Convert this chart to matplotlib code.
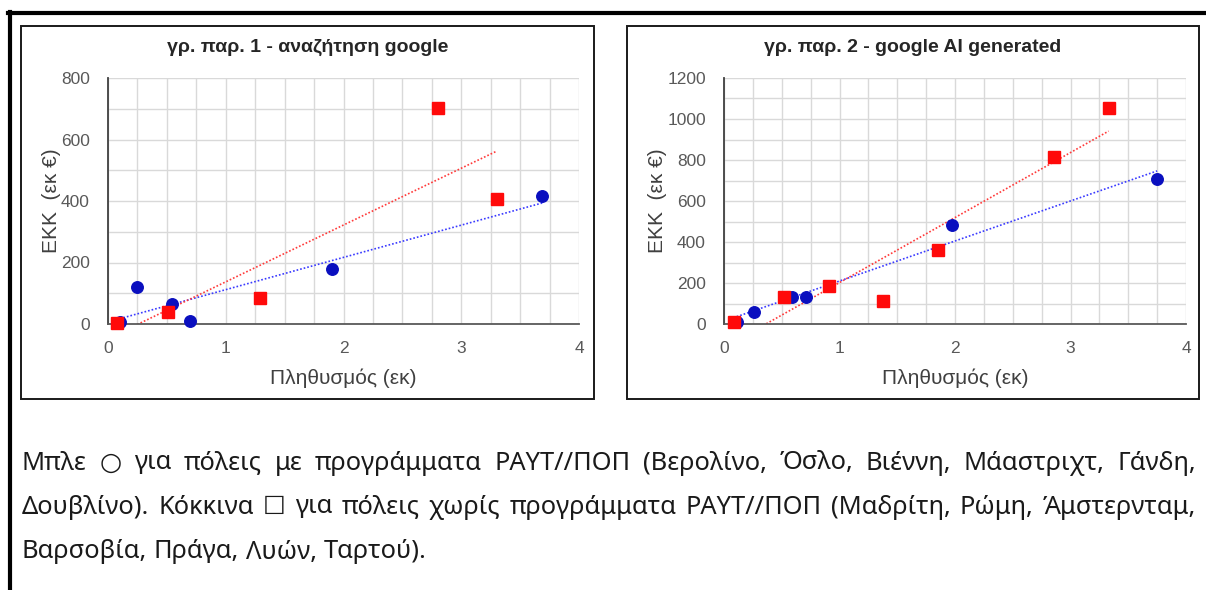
import numpy as np
import matplotlib
matplotlib.use("Agg")
import matplotlib.pyplot as plt
from matplotlib.patches import Rectangle
from matplotlib.ticker import MultipleLocator

# ---- data ----
# panel 1: google search
p1_blue_x = [0.10, 0.25, 0.54, 0.70, 1.90, 3.69]
p1_blue_y = [5, 120, 65, 9, 180, 415]
p1_red_x = [0.08, 0.51, 1.29, 2.80, 3.30]
p1_red_y = [2, 40, 86, 703, 405]

# panel 2: google AI generated
p2_blue_x = [0.11, 0.26, 0.59, 0.71, 1.97, 3.75]
p2_blue_y = [11, 60, 134, 134, 484, 706]
p2_red_x = [0.09, 0.52, 0.91, 1.38, 1.85, 2.86, 3.33]
p2_red_y = [8, 133, 186, 110, 360, 813, 1054]

titles = ["γρ. παρ. 1 - αναζήτηση google", "γρ. παρ. 2 - google AI generated"]
xlabel = "Πληθυσμός (εκ)"
ylabel = "ΕΚΚ  (εκ €)"
ymaxes = [800, 1200]

caption_lines = [
    "Μπλε ○ για πόλεις με προγράμματα ΡΑΥΤ//ΠΟΠ (Βερολίνο, Όσλο, Βιέννη, Μάαστριχτ, Γάνδη,",
    "Δουβλίνο). Κόκκινα ☐ για πόλεις χωρίς προγράμματα ΡΑΥΤ//ΠΟΠ (Μαδρίτη, Ρώμη, Άμστερνταμ,",
    "Βαρσοβία, Πράγα, Λυών, Ταρτού).",
]

BLUE = "#0a0fbf"
RED = "#ff0a0a"
GRID = "#d9d9d9"
TICK = "#595959"
LABEL_FONT = ["Liberation Sans", "DejaVu Sans"]

W, H = 1206, 590
fig = plt.figure(figsize=(W / 100, H / 100), dpi=100)


def px_rect(x0, y0, x1, y1):
    return [x0 / W, 1 - y1 / H, (x1 - x0) / W, (y1 - y0) / H]


def trend(ax, x, y, color):
    k, b = np.polyfit(x, y, 1)
    xs = np.array([min(x), max(x)])
    ax.plot(xs, k * xs + b, color=color, ls=(0, (1, 1.2)), lw=1.2, zorder=2)


panels = [
    (px_rect(108, 78, 579, 324), p1_blue_x, p1_blue_y, p1_red_x, p1_red_y),
    (px_rect(724, 78, 1186, 324), p2_blue_x, p2_blue_y, p2_red_x, p2_red_y),
]
boxes = [(21, 26, 594, 399), (627, 26, 1199, 399)]

for i, (rect, bx, by, rx, ry) in enumerate(panels):
    # chart frame
    x0, y0, x1, y1 = boxes[i]
    fig.patches.append(Rectangle((x0 / W, 1 - y1 / H), (x1 - x0) / W, (y1 - y0) / H,
                                 transform=fig.transFigure, fill=False,
                                 ec="#1a1a1a", lw=1.4))
    fig.text((x0 + x1) / 2 / W, 1 - 47 / H, titles[i], ha="center", va="center",
             fontsize=14, fontweight="bold", family=LABEL_FONT, color="#262626")

    ax = fig.add_axes(rect)
    ax.set_xlim(0, 4)
    ax.set_ylim(0, ymaxes[i])
    ax.xaxis.set_major_locator(MultipleLocator(1))
    ax.xaxis.set_minor_locator(MultipleLocator(0.25))
    ax.yaxis.set_major_locator(MultipleLocator(200))
    ax.yaxis.set_minor_locator(MultipleLocator(100))
    ax.grid(True, which="both", color=GRID, lw=1.0, zorder=0)
    ax.set_axisbelow(True)
    for s in ["top", "right"]:
        ax.spines[s].set_visible(False)
    ax.spines["left"].set_color("#404040")
    ax.spines["bottom"].set_color("#595959")
    ax.spines["left"].set_linewidth(1.3)
    ax.spines["bottom"].set_linewidth(1.3)
    ax.tick_params(which="both", length=0, labelsize=12.5, labelcolor=TICK)
    ax.tick_params(axis="y", pad=13)
    ax.tick_params(axis="x", pad=12)
    for lab in ax.get_xticklabels() + ax.get_yticklabels():
        lab.set_family(LABEL_FONT)
    ax.set_xlabel(xlabel, fontsize=15, color="#404040", labelpad=9, family=LABEL_FONT)
    ax.set_ylabel(ylabel, fontsize=15, color="#404040", labelpad=0, family=LABEL_FONT)

    trend(ax, bx, by, "#3a3aff")
    trend(ax, rx, ry, "#ff3a3a")
    ax.plot(bx, by, "o", color=BLUE, ms=8.3, mec=BLUE, zorder=3, clip_on=False)
    ax.plot(rx, ry, "s", color=RED, ms=8.3, mec=RED, zorder=4, clip_on=False)

# outer frame (top and left edges visible)
fig.add_artist(plt.Line2D([8 / W, 1], [1 - 13 / H, 1 - 13 / H], color="black", lw=3,
                          transform=fig.transFigure))
fig.add_artist(plt.Line2D([10 / W, 10 / W], [0, 1 - 12 / H], color="black", lw=3,
                          transform=fig.transFigure))

# justified caption
renderer = fig.canvas.get_renderer()
cap_font = dict(fontsize=18.3, family=["Noto Sans", "DejaVu Sans"], color="#1a1a1a",
                va="center", ha="left")
line_y = [463, 507, 552]
xl, xr = 22, 1196
for j, line in enumerate(caption_lines):
    words = line.split(" ")
    texts = [fig.text(0, 1 - line_y[j] / H, w, **cap_font) for w in words]
    widths = [t.get_window_extent(renderer).width for t in texts]
    if j < len(caption_lines) - 1:
        gap = (xr - xl - sum(widths)) / (len(words) - 1)
    else:
        sp = fig.text(0, 0, "a a", **cap_font)
        sa = fig.text(0, 0, "aa", **cap_font)
        gap = sp.get_window_extent(renderer).width - sa.get_window_extent(renderer).width
        sp.remove()
        sa.remove()
    x = xl
    for t, w in zip(texts, widths):
        t.set_x(x / W)
        x += w + gap

fig.savefig("out.png", dpi=100)
